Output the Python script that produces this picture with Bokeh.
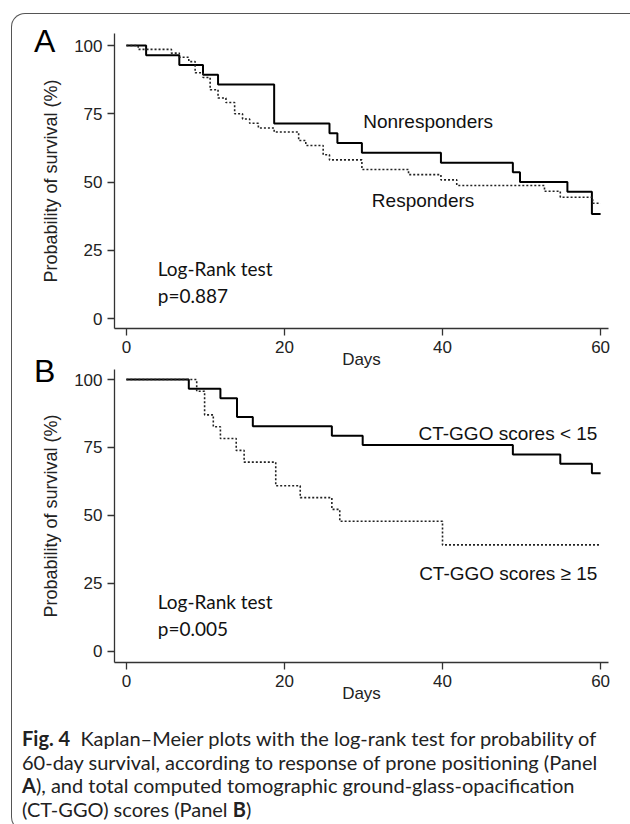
from bokeh.plotting import figure
from bokeh.models import Range1d, FixedTicker, Div
from bokeh.layouts import column
from bokeh.core.properties import value
from bokeh.embed import file_html
from bokeh.resources import INLINE

# ---------------- data ----------------
X_TICKS = [0, 20, 40, 60]
Y_TICKS = [0, 25, 50, 75, 100]

# Panel A
nonresp_days = [0, 2.5, 6.7, 9.7, 11.6, 18.7, 25.7, 26.7, 29.8, 39.8, 48.9, 49.8, 55.8, 58.9, 60]
nonresp_surv = [100, 96.4, 92.9, 89.3, 85.7, 71.4, 67.9, 64.3, 60.7, 57.1, 53.6, 50.0, 46.4, 38.3, 38.3]

resp_days = [0, 1.5, 5.7, 6.7, 7.9, 8.7, 9.7, 10.6, 11.6, 12.6, 13.7, 14.7, 15.6, 16.7, 18.7,
             21.8, 22.7, 24.9, 25.7, 29.8, 35.7, 39.8, 41.8, 52.9, 54.9, 59.0, 60]
resp_surv = [100, 98.6, 97.2, 95.7, 94.1, 90.0, 88.3, 83.8, 80.8, 79.1, 75.0, 73.1, 71.5, 69.8, 68.3,
             65.2, 63.4, 60.0, 58.1, 54.6, 52.7, 50.8, 48.7, 46.6, 44.4, 42.2, 42.2]

# Panel B
low_days = [0, 7.9, 11.9, 14.0, 16.0, 26.0, 29.9, 48.9, 54.9, 58.9, 60]
low_surv = [100, 96.6, 93.1, 86.2, 82.8, 79.3, 75.9, 72.4, 69.0, 65.5, 65.5]

high_days = [0, 8.9, 9.9, 11.0, 11.9, 13.9, 14.9, 18.9, 22.0, 26.0, 27.0, 40.0, 60]
high_surv = [100, 95.7, 87.0, 82.6, 78.3, 73.9, 69.6, 60.9, 56.5, 52.2, 47.8, 39.1, 39.1]

A_NAMES = ["Nonresponders", "Responders"]
B_NAMES = ["CT-GGO scores < 15", "CT-GGO scores \u2265 15"]
TEST_LINES_A = ["Log-Rank test", "p=0.887"]
TEST_LINES_B = ["Log-Rank test", "p=0.005"]
PANEL_LETTERS = ["A", "B"]

CAPTION = ("<b>Fig. 4</b>&nbsp; Kaplan\u2013Meier plots with the log-rank test for probability of<br>"
           "60-day survival, according to response of prone positioning (Panel<br>"
           "<b>A</b>), and total computed tomographic ground-glass-opacification<br>"
           "(CT-GGO) scores (Panel <b>B</b>)")

ARIAL = "Liberation Sans"
CALIBRI = "Lato"


def style(p):
    p.xaxis.ticker = FixedTicker(ticks=X_TICKS)
    p.yaxis.ticker = FixedTicker(ticks=Y_TICKS)
    for ax in (p.xaxis[0], p.yaxis[0]):
        ax.axis_line_color = "#333333"
        ax.axis_line_width = 1.3
        ax.major_tick_line_color = "#333333"
        ax.major_tick_line_width = 1.3
        ax.major_tick_out = 7
        ax.major_tick_in = 0
        ax.minor_tick_line_color = None
        ax.major_label_text_font = ARIAL
        ax.major_label_text_font_size = "17px"
        ax.major_label_text_color = "#222222"
        ax.axis_label_text_font = ARIAL
        ax.axis_label_text_font_style = "normal"
        ax.axis_label_text_color = "#222222"
    p.xaxis.axis_label = "Days"
    p.xaxis.axis_label_text_font_size = "17px"
    p.xaxis.axis_label_standoff = -6
    p.yaxis.axis_label = "Probability of survival (%)"
    p.yaxis.axis_label_text_font_size = "18px"
    p.yaxis.axis_label_standoff = 10
    p.xgrid.visible = False
    p.ygrid.visible = False
    p.outline_line_color = None
    p.background_fill_alpha = 0
    p.border_fill_alpha = 0


def letter(txt, margin):
    return Div(text=txt, width=40, height=40, margin=margin,
               styles={"font-family": ARIAL, "font-size": "32px", "line-height": "32px",
                       "color": "#000000"})


W = 617

# ---------------- panel A ----------------
pa = figure(width=W, height=358, output_backend="svg", toolbar_location=None,
            x_range=Range1d(-1.5, 61.0), y_range=Range1d(-3.66, 104.4),
            min_border_left=102, min_border_right=21, min_border_top=19, min_border_bottom=44)
style(pa)
pa.step(nonresp_days, nonresp_surv, mode="after", line_color="black", line_width=2)
pa.step(resp_days, resp_surv, mode="after", line_color="#222222", line_width=1.6, line_dash="2 2")
pa.text(x=[29.96], y=[72.2], text=[A_NAMES[0]], text_font=value(ARIAL), text_font_size="19px",
        text_color="#111111", text_baseline="alphabetic", text_align="left")
pa.text(x=[31.06], y=[43.2], text=[A_NAMES[1]], text_font=value(ARIAL), text_font_size="19px",
        text_color="#111111", text_baseline="alphabetic", text_align="left")
pa.text(x=[3.97, 3.97], y=[18.3, 8.4], text=TEST_LINES_A, text_font=value(CALIBRI),
        text_font_size="19px", text_color="#111111", text_baseline="alphabetic", text_align="left")

# ---------------- panel B ----------------
pb = figure(width=W, height=348, output_backend="svg", toolbar_location=None,
            x_range=Range1d(-1.5, 61.0), y_range=Range1d(-4.2, 103.7),
            min_border_left=102, min_border_right=21, min_border_top=10, min_border_bottom=45)
style(pb)
pb.step(low_days, low_surv, mode="after", line_color="black", line_width=2)
pb.step(high_days, high_surv, mode="after", line_color="#222222", line_width=1.6, line_dash="2 2")
pb.text(x=[59.6, 59.6], y=[80.1, 28.7], text=B_NAMES, text_font=value(ARIAL), text_font_size="19px",
        text_color="#111111", text_baseline="alphabetic", text_align="right")
pb.text(x=[3.97, 3.97], y=[18.3, 8.4], text=TEST_LINES_B, text_font=value(CALIBRI),
        text_font_size="19px", text_color="#111111", text_baseline="alphabetic", text_align="left")

letter_a = letter(PANEL_LETTERS[0], (11, 0, -51, 22))
letter_b = letter(PANEL_LETTERS[1], (-17, 0, -36, 22))

cap = Div(text=CAPTION, width=W, height=113,
          styles={"font-family": "Lato", "font-size": "20px", "line-height": "23.5px",
                  "color": "#222222", "padding-left": "5px", "padding-top": "15px",
                  "white-space": "nowrap"})

layout = column(letter_a, pa, letter_b, pb, cap, margin=(13, 0, 0, 11),
                styles={"border-left": "1.5px solid #555555", "border-top": "1.5px solid #555555",
                        "border-bottom": "1.5px solid #555555",
                        "border-top-left-radius": "14px", "border-bottom-left-radius": "14px"})

open("out.html", "w").write(file_html(layout, INLINE))
